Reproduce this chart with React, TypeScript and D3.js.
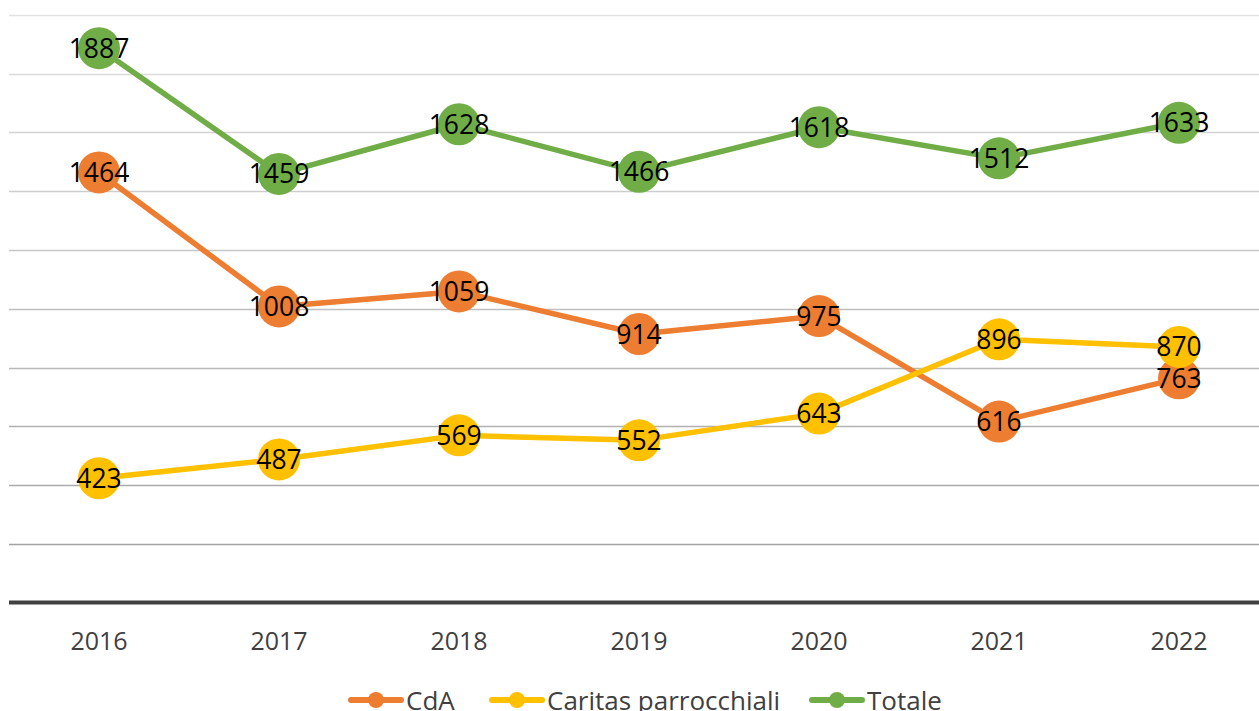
import React from 'react';
import * as d3 from 'd3';

const years = ['2016', '2017', '2018', '2019', '2020', '2021', '2022'];
const cda = [1464, 1008, 1059, 914, 975, 616, 763];
const caritas = [423, 487, 569, 552, 643, 896, 870];
const totale = [1887, 1459, 1628, 1466, 1618, 1512, 1633];
const gridTicks = [0, 200, 400, 600, 800, 1000, 1200, 1400, 1600, 1800, 2000];

const series = [
  { name: 'CdA', values: cda, color: '#ED7D31' },
  { name: 'Caritas parrocchiali', values: caritas, color: '#FFC000' },
  { name: 'Totale', values: totale, color: '#70AD47' },
];

const W = 1259;
const H = 711;
const font = "'Open Sans', 'Liberation Sans', sans-serif";

export default function App() {
  const x = d3.scaleBand<string>().domain(years).range([9, 1269]);
  const y = d3.scaleLinear().domain([0, 2000]).range([602.5, 15]);
  const cx = (d: string) => (x(d) ?? 0) + x.bandwidth() / 2;

  const line = d3
    .line<number>()
    .x((_, i) => cx(years[i]))
    .y((d) => y(d));

  const gridColor = d3.interpolateRgb('#a3a3a3', '#e2e2e2');

  // legend layout: line start x for each item
  const legendX = [348, 489, 809];

  return (
    <svg
      width={W}
      height={H}
      style={{ position: 'absolute', left: 0, top: 0, background: '#fff' }}
    >
      {/* gridlines */}
      {gridTicks.slice(1).map((t, i) => (
        <line
          key={t}
          x1={9}
          x2={W}
          y1={Math.round(y(t)) + 0.5}
          y2={Math.round(y(t)) + 0.5}
          stroke={gridColor(i / (gridTicks.length - 2))}
          strokeWidth={1.5}
        />
      ))}
      {/* baseline */}
      <line x1={9} x2={W} y1={y(0)} y2={y(0)} stroke="#404040" strokeWidth={4} />

      {/* x tick labels */}
      {years.map((d) => (
        <text
          key={d}
          x={cx(d)}
          y={650}
          textAnchor="middle"
          fontFamily={font}
          fontSize={25}
          fill="#404040"
        >
          {d}
        </text>
      ))}

      {/* series */}
      {series.map((s) => (
        <g key={s.name}>
          <path
            d={line(s.values) ?? ''}
            fill="none"
            stroke={s.color}
            strokeWidth={5.5}
            strokeLinejoin="round"
            strokeLinecap="round"
          />
          {s.values.map((v, i) => (
            <circle key={i} cx={cx(years[i])} cy={y(v)} r={21} fill={s.color} />
          ))}
        </g>
      ))}

      {/* data labels */}
      {series.map((s) => (
        <g key={s.name + '-labels'}>
          {s.values.map((v, i) => (
            <text
              key={i}
              x={cx(years[i])}
              y={y(v) + 9.5}
              textAnchor="middle"
              fontFamily={font}
              fontSize={26.5}
              fill="#000"
            >
              {v}
            </text>
          ))}
        </g>
      ))}

      {/* legend */}
      {series.map((s, i) => (
        <g key={s.name + '-legend'} transform={`translate(${legendX[i]},700)`}>
          <line x1={3} x2={53} y1={0} y2={0} stroke={s.color} strokeWidth={6} strokeLinecap="round" />
          <circle cx={28} cy={0} r={8} fill={s.color} />
          <text x={58} y={10} fontFamily={font} fontSize={26} fill="#404040">
            {s.name}
          </text>
        </g>
      ))}
    </svg>
  );
}
